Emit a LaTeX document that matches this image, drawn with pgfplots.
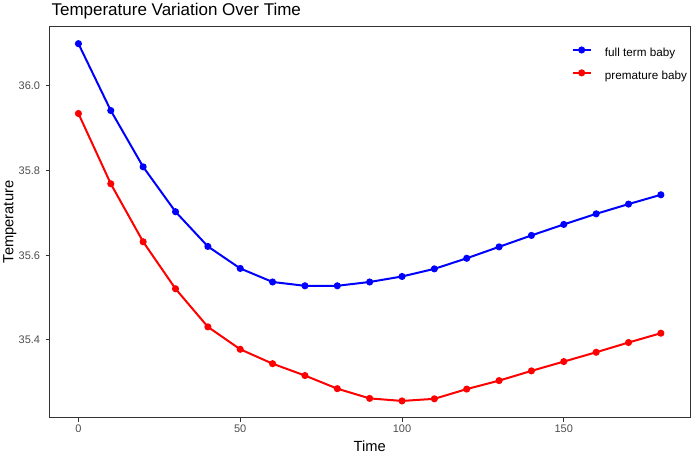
\documentclass[border=0pt]{standalone}
\usepackage{pgfplots}
\pgfplotsset{compat=1.18}
\usepackage{pgfplotstable}
\usepackage{fontspec}
\setmainfont{Liberation Sans}
\definecolor{gtext}{HTML}{4D4D4D}
\definecolor{gframe}{HTML}{333333}
\definecolor{fblue}{HTML}{0000FF}
\definecolor{fred}{HTML}{FF0000}

\pgfplotstableread{
t temp
0 36.100
10 35.942
20 35.809
30 35.703
40 35.621
50 35.569
60 35.537
70 35.528
80 35.528
90 35.537
100 35.550
110 35.568
120 35.593
130 35.620
140 35.647
150 35.673
160 35.698
170 35.721
180 35.743
}\fullterm

\pgfplotstableread{
t temp
0 35.935
10 35.769
20 35.632
30 35.521
40 35.431
50 35.378
60 35.344
70 35.316
80 35.285
90 35.262
100 35.256
110 35.261
120 35.284
130 35.304
140 35.327
150 35.349
160 35.371
170 35.394
180 35.416
}\premature

\begin{document}
\begin{tikzpicture}
\useasboundingbox (0,0) rectangle (694pt,453pt);
\begin{axis}[
  at={(49.3pt,35pt)}, anchor=south west,
  scale only axis, width=640.7pt, height=392pt,
  xmin=-9, xmax=189, ymin=35.2157, ymax=36.1417,
  axis line style={gframe, line width=1pt},
  xtick={0,50,100,150}, ytick={35.4,35.6,35.8,36.0},
  tick align=outside, tick pos=left, major tick length=3.7pt,
  every tick/.style={gframe, line width=1pt},
  ticklabel style={font=\fontsize{11}{13}\selectfont, text=gtext},
  yticklabel style={xshift=-2pt},
  yticklabel style={/pgf/number format/.cd, fixed, fixed zerofill, precision=1},
  /pgf/number format/assume math mode=true,
  xlabel={Time}, ylabel={Temperature},
  label style={font=\fontsize{14.7}{17}\selectfont, text=black},
  xlabel style={at={(axis description cs:0.5,0)}, anchor=base, yshift=-33pt},
  ylabel style={at={(axis description cs:0,0.5)}, anchor=base, yshift=36pt},
  legend style={draw=none, fill=none, inner sep=0pt, outer sep=0pt,
    at={(axis description cs:0.8153,0.9452)}, anchor=north west,
    font=\fontsize{11.7}{14}\selectfont,
    nodes={inner sep=0pt, text height=8.5pt, text depth=2.5pt},
    row sep=11.3pt,
    /tikz/every odd column/.append style={column sep=13.3pt}},
  legend cell align=left,
  legend image code/.code={\draw[mark repeat=2, mark phase=2, #1, yshift=3.6pt] plot coordinates {(0pt,0pt) (9pt,0pt) (18pt,0pt)};},
]
\addplot[fblue, line width=2pt, mark=*, mark size=2.5pt] table[x=t, y=temp] {\fullterm};
\addlegendentry{full term baby}
\addplot[fred, line width=2pt, mark=*, mark size=2.5pt] table[x=t, y=temp] {\premature};
\addlegendentry{premature baby}
\end{axis}
\node[anchor=base west, font=\fontsize{17}{20}\selectfont] at (48pt,437pt) {Temperature Variation Over Time};
\end{tikzpicture}
\end{document}
